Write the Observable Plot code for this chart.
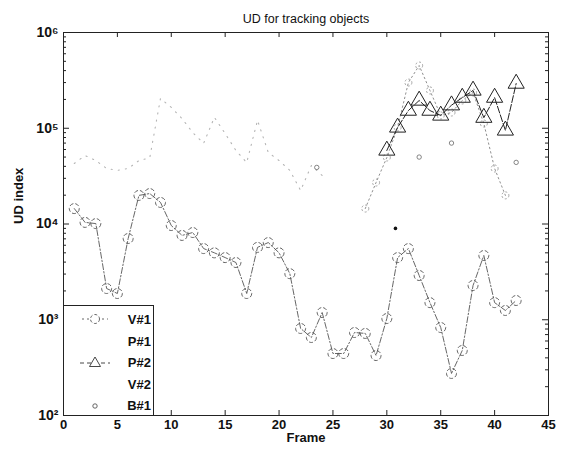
<!DOCTYPE html>
<html><head><meta charset="utf-8">
<script src="https://cdn.jsdelivr.net/npm/d3@7"></script>
<script src="https://cdn.jsdelivr.net/npm/@observablehq/plot@0.6"></script>
<style>
body{margin:0;background:#fff;}
#wrap{position:relative;width:571px;height:454px;overflow:hidden;}
#legend{position:absolute;left:63px;top:305px;width:91px;height:110px;border:1px solid #222;border-bottom:none;background:#fff;font:bold 13px "Liberation Sans",Arial,sans-serif;color:#111;box-sizing:border-box;}
.row{position:absolute;left:0;width:89px;height:20px;}
.row svg{position:absolute;left:14px;top:1px;}
.row span{position:absolute;right:2px;top:2px;}
</style></head><body><div id="wrap"></div>
<script>
// ---- data ----
const title = "UD for tracking objects";
const xLabel = "Frame";
const yLabel = "UD index";
const xTicks = [0, 5, 10, 15, 20, 25, 30, 35, 40, 45];
const yTicks = [1e2, 1e3, 1e4, 1e5, 1e6];
const seriesNames = ["V#1", "P#1", "P#2", "V#2", "B#1"];

const v1Frames = [1,2,3,4,5,6,7,8,9,10,11,12,13,14,15,16,17,18,19,20,21,22,23,24,25,26,27,28,29,30,31,32,33,34,35,36,37,38,39,40,41,42];
const v1Values = [14500,10400,10100,2120,1880,7060,19900,20800,16800,9640,7600,8150,5540,5000,4460,3960,1880,5700,6400,5000,3030,811,653,1190,444,444,736,720,423,1030,4460,5540,2900,1510,830,275,478,2280,4690,1510,1250,1590];

const p1Frames = [1,2,3,4,5,6,7,8,9,10,11,12,13,14,15,16,17,18,19,20,21,22,23,24];
const p1Values = [42900,51900,46000,38000,36300,38000,46000,49000,205000,165000,126000,90000,69500,130000,88000,58600,43800,121000,55900,46000,36300,22400,40800,32100];

const p2Frames = [30,31,32,33,34,35,36,37,38,39,40,41,42];
const p2Values = [58600,102000,153000,195000,153000,136000,174000,209000,248000,129000,209000,94900,293000];

const v2Frames = [28,29,30,31,32,33,34,35,36,37,38,39,40,41];
const v2Values = [14500,27100,49500,102000,300000,452000,248000,136000,146000,195000,236000,112000,38000,19900];

const b1Frames = [23.5,33,36,42];
const b1Values = [39000,50000,70000,44000];

const speckFrames = [30.8];
const speckValues = [9000];

// ---- helpers ----
const sup = {"0":"⁰","1":"¹","2":"²","3":"³","4":"⁴","5":"⁵","6":"⁶","7":"⁷","8":"⁸","9":"⁹"};
const fmtPow = d => "10" + String(Math.round(Math.log10(d))).split("").map(c => sup[c]).join("");
const yMinor = [];
for (let k = 2; k < 6; k++) for (let m = 2; m < 10; m++) yMinor.push(m * 10 ** k);

const toRows = (fs, vs, name) => fs.map((f, i) => ({frame: f, value: vs[i], name}));
const v1 = toRows(v1Frames, v1Values, "V#1");
const p1 = toRows(p1Frames, p1Values, "P#1");
const p2 = toRows(p2Frames, p2Values, "P#2");
const v2 = toRows(v2Frames, v2Values, "V#2");
const b1 = toRows(b1Frames, b1Values, "B#1");
const speck = toRows(speckFrames, speckValues, "B#1");

const W = 571, H = 454, ML = 63, MR = 23, MT = 32, MB = 39;
const PW = W - ML - MR, PH = H - MT - MB;
const font = '"Liberation Sans", Arial, sans-serif';

const plot = Plot.plot({
  width: W, height: H,
  marginLeft: ML, marginRight: MR, marginTop: MT, marginBottom: MB,
  style: {fontFamily: font, fontSize: "13px", color: "#111", background: "#fff", overflow: "visible"},
  x: {domain: [0, 45], label: null},
  y: {type: "log", domain: [100, 1e6], label: null},
  marks: [
    // data
    Plot.line(p1, {x: "frame", y: "value", stroke: "#b4b4b4", strokeWidth: 1.1, strokeDasharray: "1.2,6"}),
    Plot.line(v2, {x: "frame", y: "value", stroke: "#8f8f8f", strokeWidth: 1, strokeDasharray: "1.5,3"}),
    Plot.dot(v2, {x: "frame", y: "value", r: 3.5, stroke: "#999", strokeWidth: 0.9, strokeDasharray: "2,2"}),
    Plot.line(v1, {x: "frame", y: "value", stroke: "#555", strokeWidth: 0.9, strokeDasharray: "6,2,1.5,2"}),
    Plot.dot(v1, {x: "frame", y: "value", r: 5, stroke: "#555", strokeWidth: 0.9, strokeDasharray: "4,2", fill: "none"}),
    Plot.line(p2, {x: "frame", y: "value", stroke: "#222", strokeWidth: 1, strokeDasharray: "7,2"}),
    Plot.dot(p2, {x: "frame", y: "value", symbol: "triangle", r: 6, stroke: "#222", strokeWidth: 1, fill: "none"}),
    Plot.dot(b1, {x: "frame", y: "value", r: 2.2, stroke: "#777", strokeWidth: 0.9, fill: "none"}),
    Plot.dot(speck, {x: "frame", y: "value", r: 1.8, fill: "#111", stroke: "none"}),
    // frame and inward ticks (MATLAB style)
    Plot.frame({stroke: "#222", strokeWidth: 1}),
    Plot.tickY(yTicks, {y: d => d, insetRight: PW - 6, stroke: "#222"}),
    Plot.tickY(yTicks, {y: d => d, insetLeft: PW - 6, stroke: "#222"}),
    Plot.tickY(yMinor, {y: d => d, insetRight: PW - 3, stroke: "#222"}),
    Plot.tickY(yMinor, {y: d => d, insetLeft: PW - 3, stroke: "#222"}),
    Plot.tickX(xTicks, {x: d => d, insetTop: PH - 5, stroke: "#222"}),
    Plot.tickX(xTicks, {x: d => d, insetBottom: PH - 5, stroke: "#222"}),
    // tick labels
    Plot.axisX(xTicks, {anchor: "bottom", tickSize: 0, tickPadding: 4, fontWeight: "bold", fontSize: 13, label: null}),
    Plot.axisY(yTicks, {anchor: "left", tickSize: 0, tickPadding: 5, tickFormat: fmtPow, fontWeight: "bold", fontSize: 14, label: null}),
    // texts
    Plot.text([title], {text: d => d, frameAnchor: "top", dy: -18, fontSize: 12.5}),
    Plot.text([xLabel], {text: d => d, frameAnchor: "bottom", dy: 26, fontWeight: "bold", fontSize: 13}),
    Plot.text([yLabel], {text: d => d, frameAnchor: "left", dx: -45, rotate: -90, fontWeight: "bold", fontSize: 13})
  ]
});

const wrap = document.getElementById("wrap");
wrap.appendChild(plot);

// legend
const samples = {
  "V#1": '<line x1="4" y1="8" x2="30" y2="8" stroke="#555" stroke-width="0.9" stroke-dasharray="2,3"/><circle cx="17" cy="8" r="4.5" fill="#fff" stroke="#555" stroke-width="0.9" stroke-dasharray="3,2"/>',
  "P#1": '',
  "P#2": '<line x1="2" y1="9" x2="32" y2="9" stroke="#333" stroke-width="0.9" stroke-dasharray="4,3"/><path d="M17,3 L22.5,12.5 L11.5,12.5 Z" fill="#fff" stroke="#333" stroke-width="0.9"/>',
  "V#2": '',
  "B#1": '<circle cx="17" cy="9" r="2.2" fill="none" stroke="#555" stroke-width="0.9"/>'
};
const legend = document.createElement("div");
legend.id = "legend";
seriesNames.forEach((name, i) => {
  const row = document.createElement("div");
  row.className = "row";
  row.style.top = (4 + i * 21.5) + "px";
  row.innerHTML = `<svg width="36" height="16">${samples[name]}</svg><span>${name}</span>`;
  legend.appendChild(row);
});
wrap.appendChild(legend);
</script>
</body></html>
